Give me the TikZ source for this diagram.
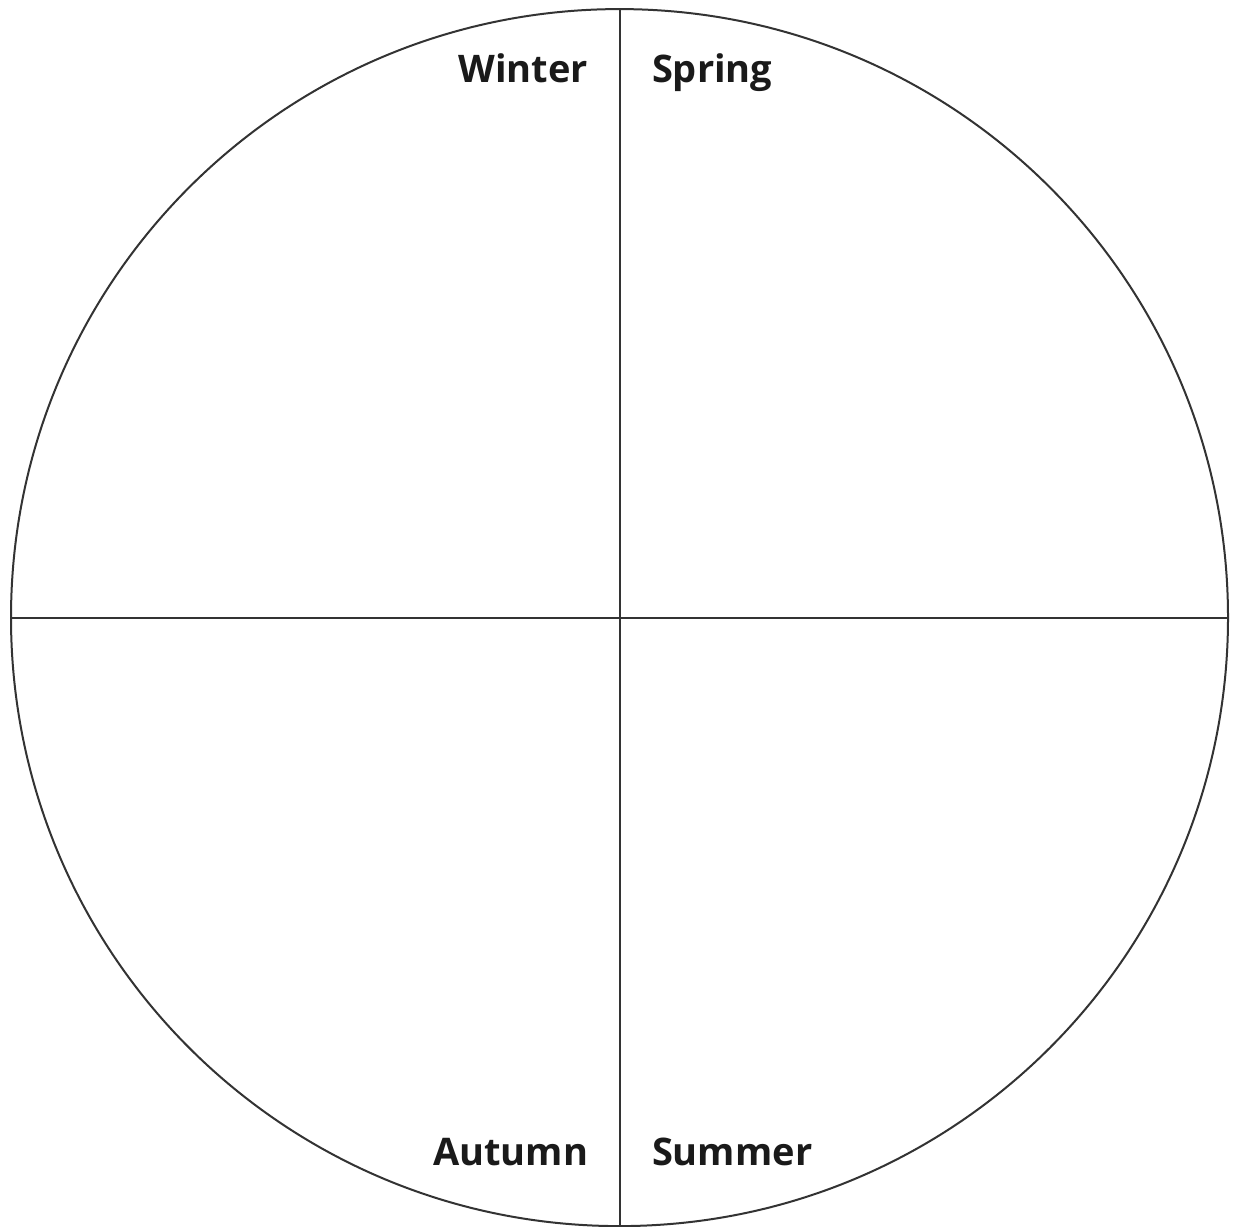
\documentclass[tikz,border=0pt]{standalone}
\usepackage{fontspec}
\setmainfont{Open Sans}
\definecolor{linegray}{HTML}{333333}
\definecolor{textblack}{HTML}{1A1A1A}
\tikzset{
  ring/.style={circle, draw=linegray, line width=2pt, minimum size=1217pt, inner sep=0pt, outer sep=0pt},
  divider/.style={draw=linegray, line width=2pt},
  season/.style={inner sep=0pt, outer sep=0pt, font=\fontsize{38}{46}\selectfont\bfseries, text=textblack}
}
\begin{document}
\begin{tikzpicture}[x=1pt,y=1pt]
\useasboundingbox (0,0) rectangle (1233,1226);
\node[ring] (c) at (619.5,608.4) {};
\draw[divider] (c.north) -- (c.south);
\draw[divider] (c.west) -- (c.east);
\node[season, anchor=base east] (winter) at (588,1143) {Winter};
\node[season, anchor=base west] (spring) at (652,1143) {Spring};
\node[season, anchor=base east] (autumn) at (588,61) {Autumn};
\node[season, anchor=base west] (summer) at (652,61) {Summer};
\end{tikzpicture}
\end{document}
